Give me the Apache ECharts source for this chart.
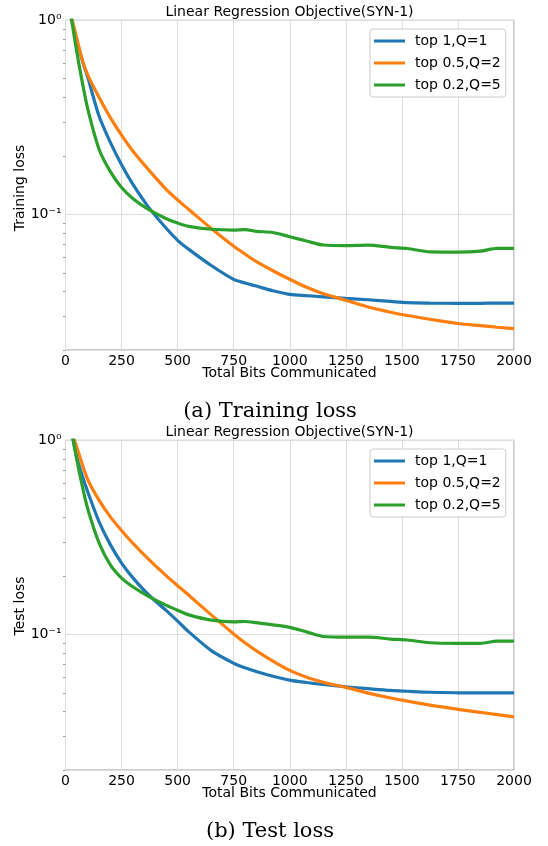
<!DOCTYPE html>
<html>
<head>
<meta charset="utf-8">
<script src="https://cdn.jsdelivr.net/npm/echarts@6/dist/echarts.min.js"></script>
<style>
html,body{margin:0;padding:0;background:#fff;}
#chart{width:548px;height:846px;}
</style>
</head>
<body>
<div id="chart"></div>
<script>
// ---- data ----
var bits = [20,30,50,75,100,150,200,250,300,370,450,500,550,650,750,800,850,925,1000,1075,1150,1250,1350,1450,1525,1625,1750,1850,1925,2000];
var seriesNames = ['top 1,Q=1', 'top 0.5,Q=2', 'top 0.2,Q=5'];
var xTicks = [0,250,500,750,1000,1250,1500,1750,2000];
var yMinorTicks = [0.02,0.03,0.04,0.05,0.06,0.07,0.08,0.09,0.2,0.3,0.4,0.5,0.6,0.7,0.8,0.9];

var trainTop1  = [1.08,0.98,0.79,0.62,0.505,0.32,0.235,0.18,0.143,0.109,0.0845,0.0735,0.0660,0.0545,0.0462,0.0443,0.0427,0.0404,0.0387,0.0381,0.0376,0.0369,0.0363,0.0356,0.0351,0.0349,0.0348,0.0348,0.0349,0.0349];
var trainTop05 = [1.10,1.00,0.81,0.625,0.52,0.40,0.315,0.256,0.212,0.170,0.134,0.1185,0.106,0.0845,0.0685,0.0625,0.0572,0.0512,0.0463,0.0421,0.0390,0.0361,0.0333,0.0313,0.0301,0.0288,0.0274,0.0267,0.0262,0.0258];
var trainTop02 = [1.12,0.96,0.69,0.479,0.347,0.216,0.166,0.1374,0.1208,0.106,0.095,0.0902,0.0867,0.0838,0.0830,0.0835,0.0818,0.0806,0.0767,0.0729,0.0695,0.0690,0.0694,0.0676,0.0667,0.0641,0.0639,0.0646,0.0668,0.0668];

var testTop1  = [1.17,1.05,0.82,0.655,0.54,0.38,0.29,0.233,0.196,0.160,0.1325,0.117,0.103,0.0825,0.071,0.0672,0.0643,0.0608,0.0581,0.0565,0.0552,0.0537,0.0525,0.0514,0.0509,0.0503,0.0500,0.0499,0.0500,0.0500];
var testTop05 = [1.175,1.084,0.923,0.75,0.624,0.49,0.403,0.343,0.295,0.244,0.200,0.178,0.159,0.126,0.1005,0.0905,0.0825,0.0728,0.0652,0.0601,0.0566,0.0533,0.0498,0.0470,0.0453,0.0432,0.0411,0.0396,0.0386,0.0376];
var testTop02 = [1.25,1.08,0.80,0.58,0.44,0.295,0.228,0.195,0.176,0.157,0.141,0.133,0.126,0.1185,0.116,0.1165,0.115,0.112,0.1087,0.103,0.0975,0.0967,0.0967,0.0946,0.0935,0.0905,0.0899,0.0899,0.0923,0.0923];

var colors = ['#1f77b4', '#ff7f0e', '#2ca02c'];

function pairs(ys) { return bits.map(function (b, i) { return [b, ys[i]]; }); }

var FONT = 'DejaVu Sans';
function xAxisDef(idx) {
  return {
    type: 'value', gridIndex: idx, min: 0, max: 2000, interval: 250,
    axisLine: { show: false }, axisTick: { show: false },
    axisLabel: { show: true, margin: 4, fontFamily: FONT, fontSize: 14, color: '#000',
      formatter: function (v) { return xTicks.indexOf(v) >= 0 ? String(v) : ''; } },
    splitLine: { show: true, lineStyle: { color: '#dddddd', width: 1 } }
  };
}
function yAxisDef(idx) {
  return {
    type: 'log', logBase: 10, gridIndex: idx, min: 0.02, max: 1,
    axisLine: { show: false }, axisTick: { show: false },
    axisLabel: { show: true, margin: 4, fontFamily: FONT, fontSize: 14, color: '#000',
      formatter: function (v) {
        var e = Math.log10(v);
        if (Math.abs(e - Math.round(e)) > 1e-6) return '';
        e = Math.round(e);
        return e === 0 ? '10\u2070' : (e === -1 ? '10\u207B\u00B9' : '');
      } },
    splitLine: { show: true, lineStyle: { color: '#dddddd', width: 1 } }
  };
}
function yMinorAxisDef(idx) {
  return {
    type: 'log', logBase: 10, gridIndex: idx, min: 0.02, max: 1, position: 'left',
    axisLine: { show: false },
    axisTick: { show: true, length: 2.5, customValues: yMinorTicks, lineStyle: { color: '#999999', width: 1 } },
    axisLabel: { show: false },
    splitLine: { show: false }
  };
}
function lineSeries(name, ys, ci, idx) {
  return {
    name: name, type: 'line', xAxisIndex: idx, yAxisIndex: idx,
    data: pairs(ys), showSymbol: false, symbol: 'none', smooth: 0.3, clip: true,
    lineStyle: { color: colors[ci], width: 3.2 }, itemStyle: { color: colors[ci] },
    z: 3 + ci
  };
}
function legendDef(top) {
  return {
    left: 370, top: top, orient: 'vertical', icon: 'rect', itemWidth: 31, itemHeight: 3,
    itemGap: 6, padding: [4, 5, 4, 4], backgroundColor: '#ffffff', borderColor: '#cccccc',
    borderWidth: 1, borderRadius: 3,
    textStyle: { fontFamily: FONT, fontSize: 14, color: '#000', lineHeight: 16, padding: [0, 0, 0, 5] },
    data: seriesNames
  };
}
function txt(x, y, s, size, family, rot) {
  return { type: 'text', x: x, y: y, rotation: rot || 0,
    style: { text: s, fontFamily: family || FONT, fontSize: size, fill: '#000', textAlign: 'center', textVerticalAlign: 'middle' } };
}

var chart = echarts.init(document.getElementById('chart'), null, { renderer: 'canvas' });
var option = {
  backgroundColor: '#ffffff',
  animation: false,
  grid: [
    { left: 65.5, top: 20.3, width: 448.5, height: 329.7, show: true, borderColor: '#999999', borderWidth: 1, backgroundColor: 'transparent' },
    { left: 65.5, top: 440.3, width: 448.5, height: 329.7, show: true, borderColor: '#999999', borderWidth: 1, backgroundColor: 'transparent' }
  ],
  xAxis: [xAxisDef(0), xAxisDef(1)],
  yAxis: [yAxisDef(0), yAxisDef(1), yMinorAxisDef(0), yMinorAxisDef(1)],
  legend: [ (function(){ var l = legendDef(29); l.id='l0'; return l; })(),
            (function(){ var l = legendDef(449); l.id='l1'; return l; })() ],
  series: [
    lineSeries(seriesNames[0], trainTop1, 0, 0),
    lineSeries(seriesNames[1], trainTop05, 1, 0),
    lineSeries(seriesNames[2], trainTop02, 2, 0),
    lineSeries(seriesNames[0], testTop1, 0, 1),
    lineSeries(seriesNames[1], testTop05, 1, 1),
    lineSeries(seriesNames[2], testTop02, 2, 1)
  ],
  graphic: [
    txt(289.5, 12.5, 'Linear Regression Objective(SYN-1)', 14),
    txt(289.5, 373.5, 'Total Bits Communicated', 14),
    txt(20.5, 188, 'Training loss', 14, FONT, Math.PI / 2),
    txt(270, 411.5, '(a) Training loss', 21, 'DejaVu Serif'),
    txt(289.5, 432.5, 'Linear Regression Objective(SYN-1)', 14),
    txt(289.5, 793.5, 'Total Bits Communicated', 14),
    txt(20.5, 606, 'Test loss', 14, FONT, Math.PI / 2),
    txt(270, 831.5, '(b) Test loss', 21, 'DejaVu Serif')
  ]
};
chart.setOption(option);
</script>
</body>
</html>
